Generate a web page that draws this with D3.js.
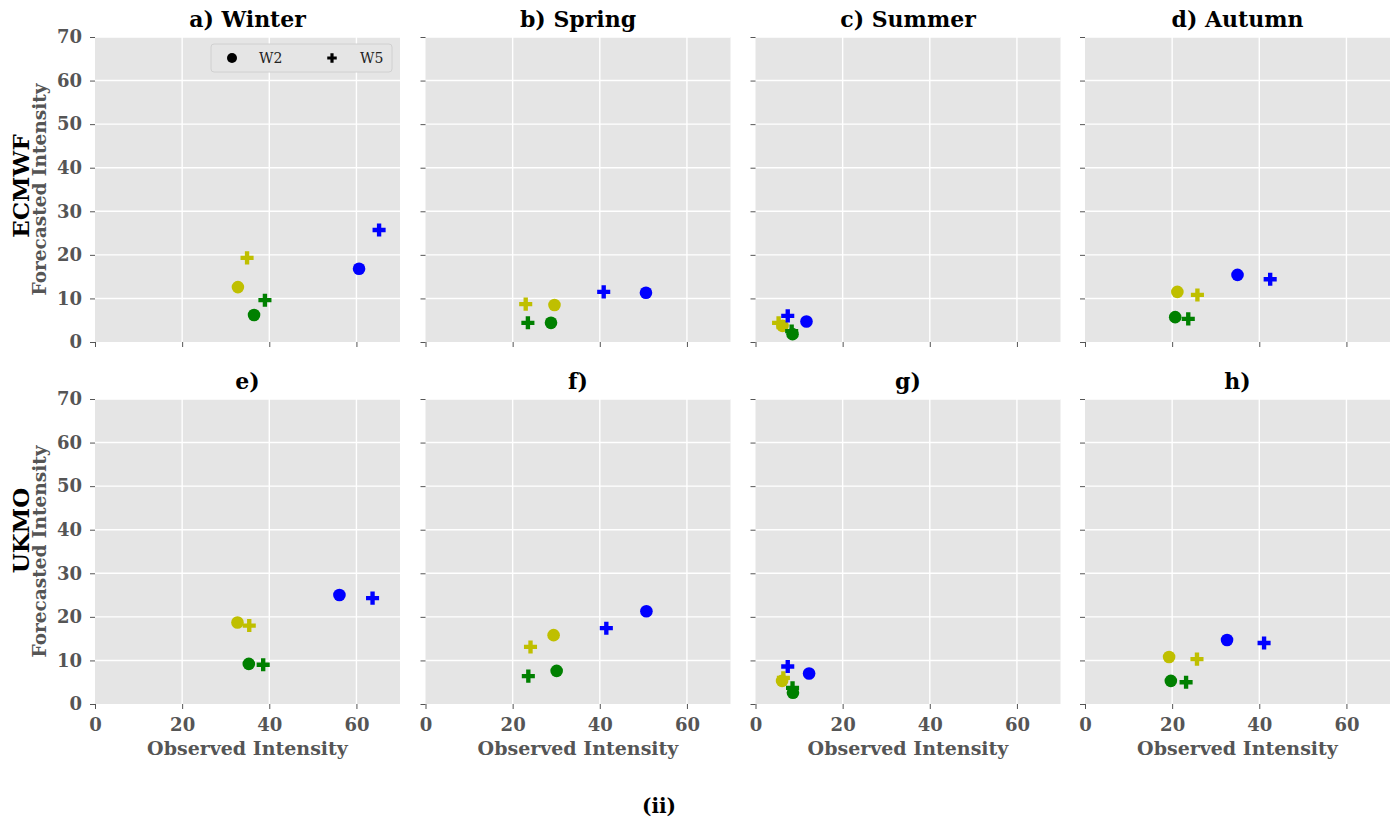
<!DOCTYPE html>
<html>
<head>
<meta charset="utf-8">
<script src="https://cdn.jsdelivr.net/npm/d3@7"></script>
<style>
  body { margin: 0; background: #fff; }
  text { font-family: "DejaVu Serif", serif; }
</style>
</head>
<body>
<div id="chart"></div>
<script>
// titles for each panel
var topTitles = ["a) Winter", "b) Spring", "c) Summer", "d) Autumn"];
var bottomTitles = ["e)", "f)", "g)", "h)"];
var models = ["ECMWF", "UKMO"];
var ticks = [0, 10, 20, 30, 40, 50, 60, 70];
var xTicks = [0, 20, 40, 60];

// [observed, forecast] per season; order of each season list: yellow, green, blue
var ecmwfW2 = [
  [[32.8, 12.6], [36.5, 6.2], [60.6, 16.8]],
  [[29.6, 8.5], [28.8, 4.4], [50.6, 11.3]],
  [[6.2, 3.7], [8.5, 1.8], [11.7, 4.7]],
  [[21.2, 11.5], [20.7, 5.7], [35.0, 15.4]]
];
var ecmwfW5 = [
  [[34.9, 19.3], [39.0, 9.6], [65.2, 25.7]],
  [[23.0, 8.7], [23.5, 4.4], [40.9, 11.5]],
  [[5.3, 4.4], [8.3, 2.5], [7.4, 6.0]],
  [[25.8, 10.8], [23.7, 5.3], [42.5, 14.4]]
];
var ukmoW2 = [
  [[32.7, 18.7], [35.3, 9.2], [56.1, 25.0]],
  [[29.4, 15.8], [30.1, 7.6], [50.7, 21.3]],
  [[6.1, 5.3], [8.6, 2.6], [12.3, 7.0]],
  [[19.3, 10.8], [19.7, 5.3], [32.6, 14.7]]
];
var ukmoW5 = [
  [[35.4, 18.0], [38.6, 9.0], [63.7, 24.3]],
  [[24.1, 13.1], [23.6, 6.4], [41.5, 17.4]],
  [[6.4, 6.0], [8.5, 3.7], [7.4, 8.6]],
  [[25.7, 10.3], [23.2, 5.0], [41.1, 14.0]]
];

var colors = ["#bfbf00", "#008000", "#0000ff"];

var W = 1395, H = 820;
var size = 305;
var colX = [95, 425.5, 755.5, 1085];
var rowY = [37, 399];

var svg = d3.select("#chart")
  .append("svg")
    .attr("width", W)
    .attr("height", H);

var x = d3.scaleLinear().domain([0, 70]).range([0, size]);
var y = d3.scaleLinear().domain([0, 70]).range([size, 0]);

var plus = d3.symbol().type(d3.symbolCross).size(95);

var rows = [
  { w2: ecmwfW2, w5: ecmwfW5, titles: topTitles },
  { w2: ukmoW2, w5: ukmoW5, titles: bottomTitles }
];

rows.forEach(function(row, r) {
  for (var c = 0; c < 4; c++) {
    var g = svg.append("g")
      .attr("transform", "translate(" + colX[c] + "," + rowY[r] + ")");

    // background
    g.append("rect")
      .attr("width", size)
      .attr("height", size)
      .attr("fill", "#e5e5e5");

    // gridlines
    g.append("g")
      .selectAll("line")
      .data(ticks.slice(1))
      .join("line")
        .attr("x1", 0).attr("x2", size)
        .attr("y1", function(d) { return y(d); })
        .attr("y2", function(d) { return y(d); })
        .attr("stroke", "#fff")
        .attr("stroke-width", 1.4);
    g.append("g")
      .selectAll("line")
      .data(xTicks.slice(1))
      .join("line")
        .attr("y1", 0).attr("y2", size)
        .attr("x1", function(d) { return x(d); })
        .attr("x2", function(d) { return x(d); })
        .attr("stroke", "#fff")
        .attr("stroke-width", 1.4);

    // axes
    var ax = g.append("g")
      .attr("transform", "translate(0," + size + ")")
      .call(d3.axisBottom(x).tickValues(xTicks).tickSize(5).tickPadding(9)
        .tickFormat(r === 1 ? d3.format("d") : ""));
    var ay = g.append("g")
      .call(d3.axisLeft(y).tickValues(ticks).tickSize(5).tickPadding(8)
        .tickFormat(c === 0 ? d3.format("d") : ""));
    [ax, ay].forEach(function(a) {
      a.select(".domain").remove();
      a.selectAll(".tick line").attr("stroke", "#555").attr("stroke-width", 1);
      a.selectAll(".tick text")
        .attr("fill", "#555")
        .style("font-family", "'DejaVu Serif', serif")
        .style("font-weight", "bold")
        .style("font-size", "18px");
    });

    // title
    g.append("text")
      .attr("x", size / 2)
      .attr("y", -10)
      .attr("text-anchor", "middle")
      .style("font-size", "22px")
      .style("font-weight", "bold")
      .attr("fill", "#000")
      .text(row.titles[c]);

    // W2 circles
    g.append("g")
      .selectAll("circle")
      .data(row.w2[c])
      .join("circle")
        .attr("cx", function(d) { return x(d[0]); })
        .attr("cy", function(d) { return y(d[1]); })
        .attr("r", 6.3)
        .attr("fill", function(d, i) { return colors[i]; });

    // W5 plus markers
    g.append("g")
      .selectAll("path")
      .data(row.w5[c])
      .join("path")
        .attr("d", plus)
        .attr("transform", function(d) { return "translate(" + x(d[0]) + "," + y(d[1]) + ")"; })
        .attr("fill", function(d, i) { return colors[i]; });

    if (r === 1) {
      g.append("text")
        .attr("x", size / 2)
        .attr("y", size + 51)
        .attr("text-anchor", "middle")
        .style("font-size", "19px")
        .style("font-weight", "bold")
        .attr("fill", "#555")
        .text("Observed Intensity");
    }
  }

  // row labels
  var cy = rowY[r] + size / 2;
  svg.append("text")
    .attr("transform", "translate(28.5," + (r === 0 ? cy - 3.5 : cy - 21) + ") rotate(-90)")
    .attr("text-anchor", "middle")
    .style("font-size", "23px")
    .style("font-weight", "bold")
    .attr("fill", "#000")
    .text(models[r]);
  svg.append("text")
    .attr("transform", "translate(45.5," + cy + ") rotate(-90)")
    .attr("text-anchor", "middle")
    .style("font-size", "18.5px")
    .style("font-weight", "bold")
    .attr("fill", "#555")
    .text("Forecasted Intensity");
});

// legend in panel a
var leg = svg.append("g").attr("transform", "translate(211,44)");
leg.append("rect")
  .attr("width", 181)
  .attr("height", 28)
  .attr("rx", 3)
  .attr("fill", "#e5e5e5")
  .attr("stroke", "#d0d0d0");
leg.append("circle")
  .attr("cx", 21).attr("cy", 14).attr("r", 5)
  .attr("fill", "#000");
leg.append("text")
  .attr("x", 48).attr("y", 19)
  .style("font-size", "14px")
  .attr("fill", "#222")
  .text("W2");
leg.append("path")
  .attr("d", d3.symbol().type(d3.symbolCross).size(50))
  .attr("transform", "translate(121,14)")
  .attr("fill", "#000");
leg.append("text")
  .attr("x", 149).attr("y", 19)
  .style("font-size", "14px")
  .attr("fill", "#222")
  .text("W5");

// bottom label
svg.append("text")
  .attr("x", 659)
  .attr("y", 813)
  .attr("text-anchor", "middle")
  .style("font-size", "20px")
  .style("font-weight", "bold")
  .attr("fill", "#000")
  .text("(ii)");
</script>
</body>
</html>
